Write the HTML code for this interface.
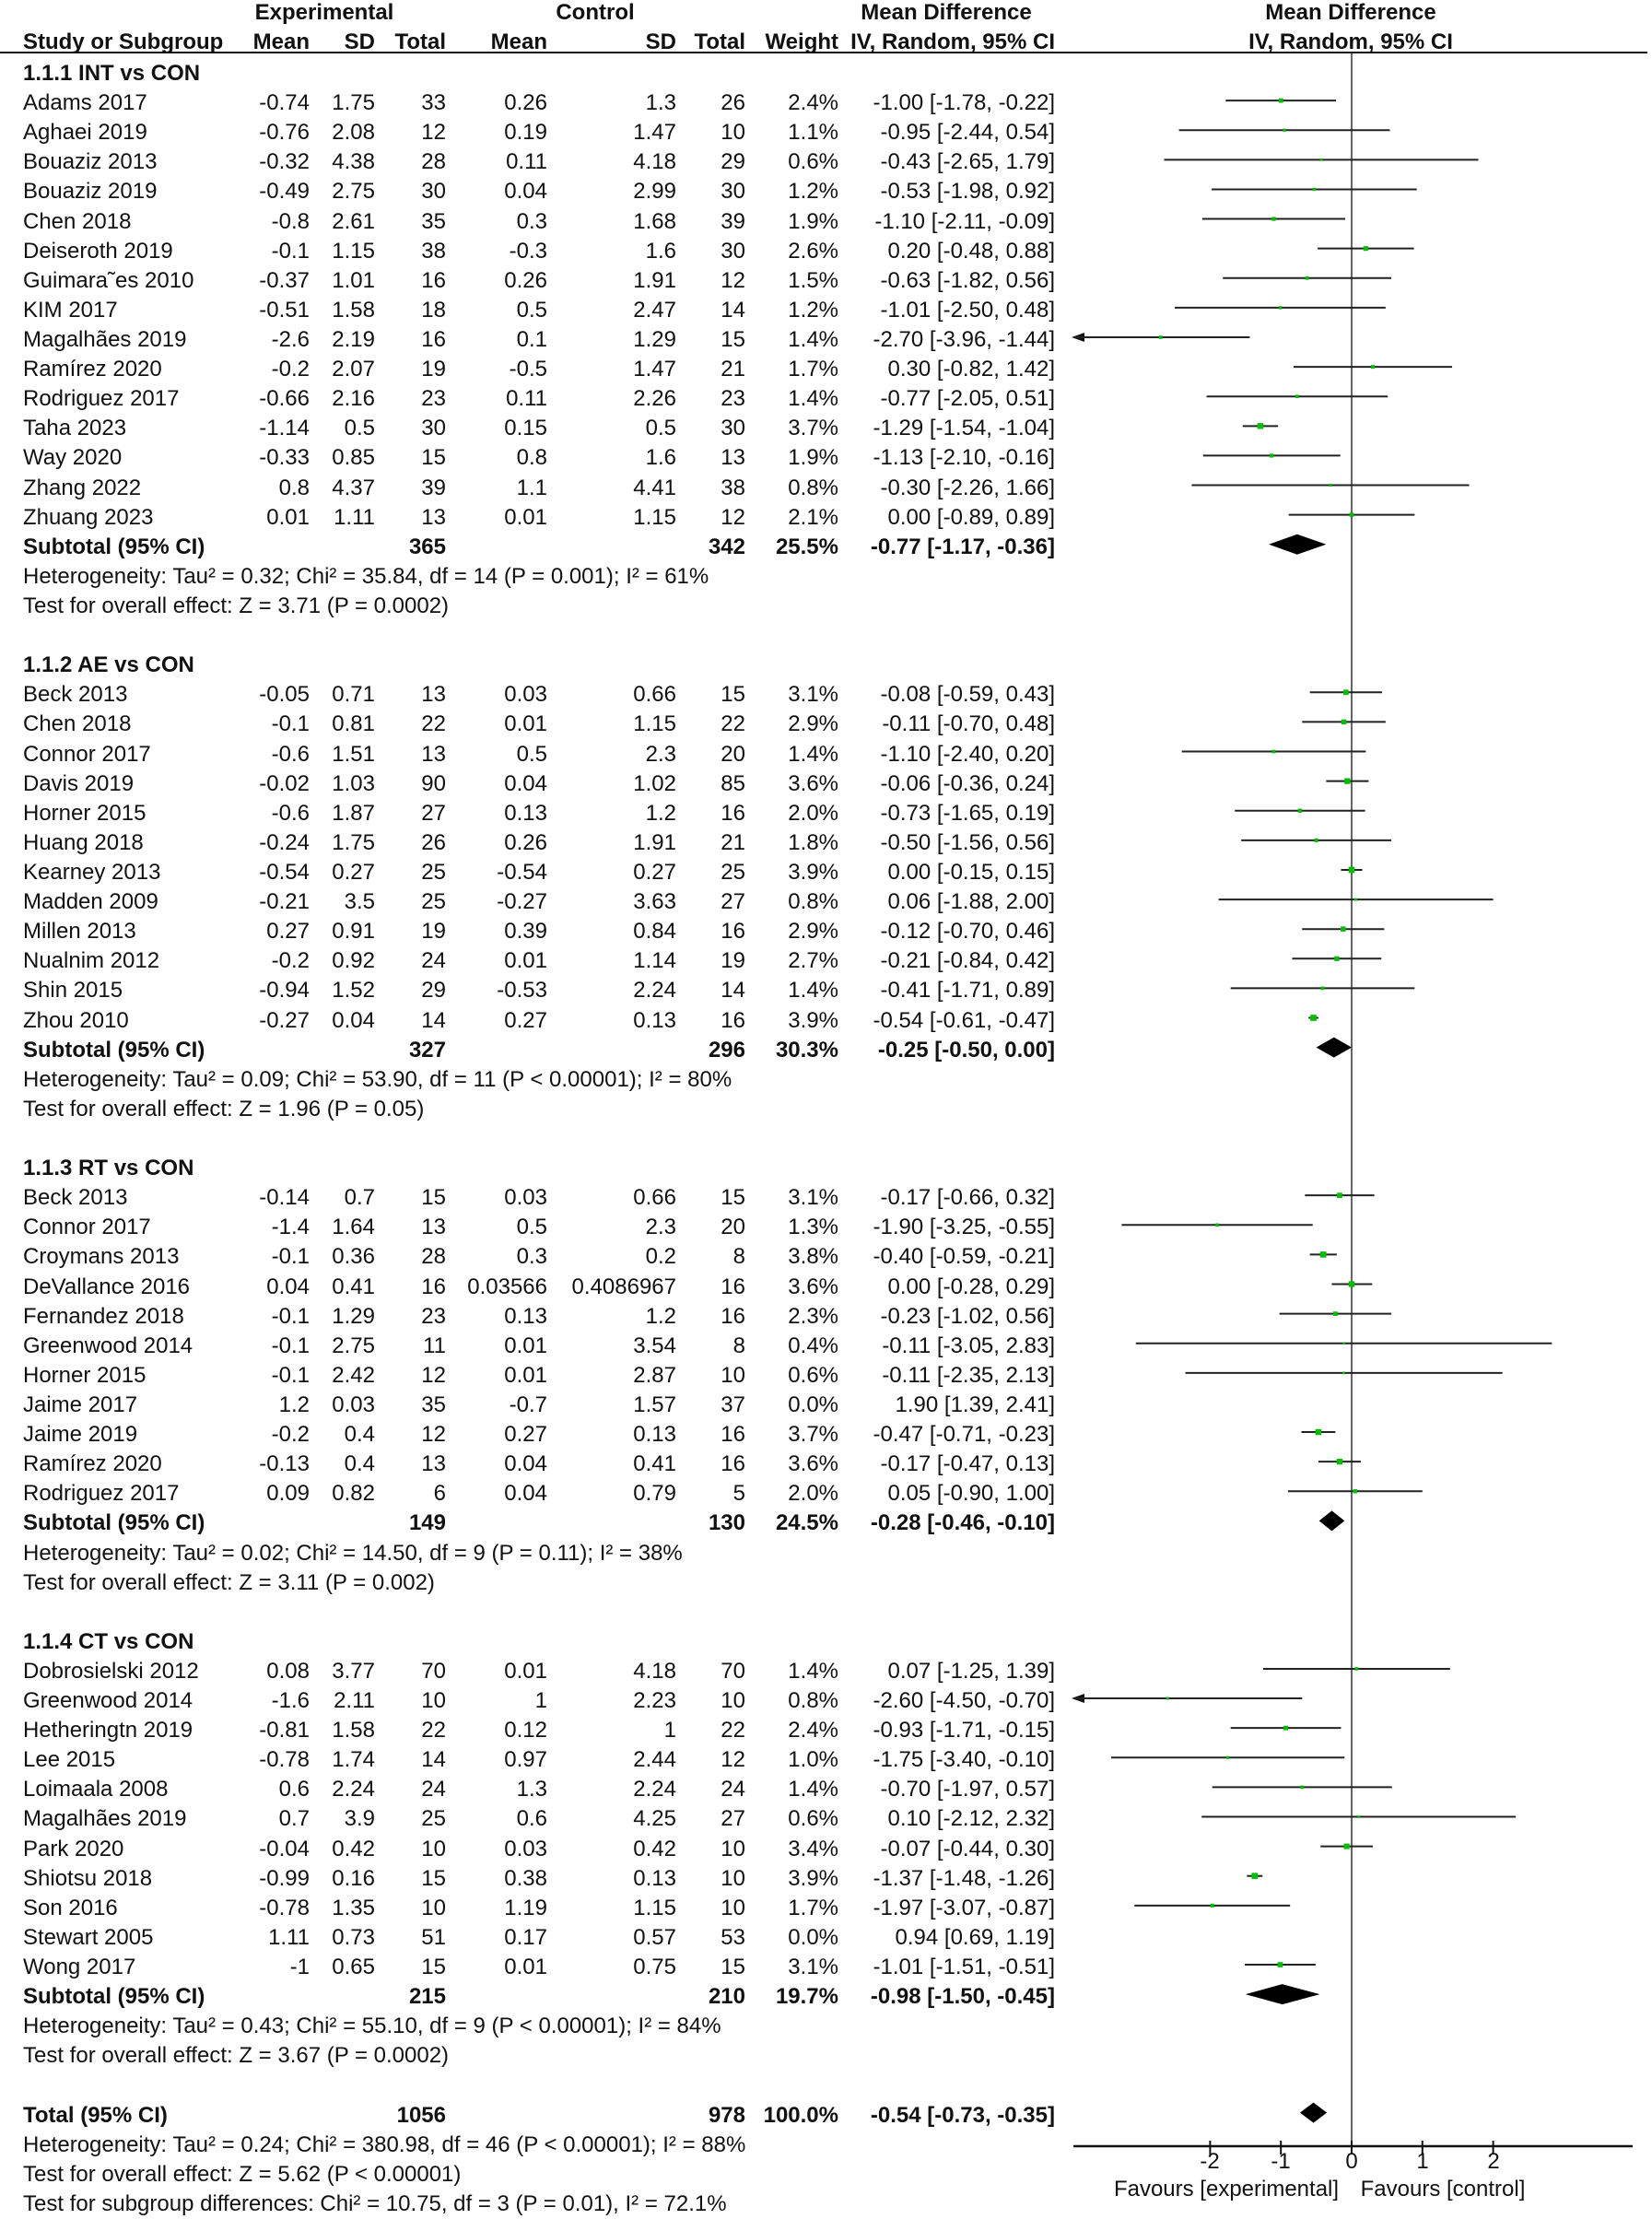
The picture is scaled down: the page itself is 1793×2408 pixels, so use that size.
<!DOCTYPE html>
<html><head><meta charset="utf-8">
<style>
body{margin:0;width:1793px;height:2405px;background:#fff;position:relative;overflow:hidden;font-family:"Liberation Sans",sans-serif;font-size:24px;color:#111;letter-spacing:0}
.r{position:absolute;left:0;width:1793px;height:32px;line-height:32px;top:calc(64px + var(--n)*32.11px);white-space:nowrap}
.r span{position:absolute;top:0}
.s{left:25px}.a{right:1457px}.b{right:1386px}.c{right:1309px}.d{right:1199px}.e{right:1059px}.f{right:984px}.g{right:883px}.h{right:648px}
.B{font-weight:bold}
.ctr{position:absolute;text-align:center;width:400px;white-space:nowrap}
svg{position:absolute;left:0;top:0}
</style></head><body>
<div class="r B" style="top:-2px"><span class="ctr" style="left:152px">Experimental</span><span class="ctr" style="left:446px">Control</span><span class="ctr" style="left:827px">Mean Difference</span><span class="ctr" style="left:1266px">Mean Difference</span></div>
<div class="r B" style="top:30px"><span class="s">Study or Subgroup</span><span class="a">Mean</span><span class="b">SD</span><span class="c">Total</span><span class="d">Mean</span><span class="e">SD</span><span class="f">Total</span><span class="g">Weight</span><span class="h">IV, Random, 95% CI</span><span class="ctr" style="left:1266px">IV, Random, 95% CI</span></div>
<div style="position:absolute;left:0;top:56px;width:1788px;height:2px;background:#111"></div>

<div class="r B" style="--n:0"><span class="s">1.1.1 INT vs CON</span></div>
<div class="r" style="--n:1"><span class="s">Adams 2017</span><span class="a">-0.74</span><span class="b">1.75</span><span class="c">33</span><span class="d">0.26</span><span class="e">1.3</span><span class="f">26</span><span class="g">2.4%</span><span class="h">-1.00 [-1.78, -0.22]</span></div>
<div class="r" style="--n:2"><span class="s">Aghaei 2019</span><span class="a">-0.76</span><span class="b">2.08</span><span class="c">12</span><span class="d">0.19</span><span class="e">1.47</span><span class="f">10</span><span class="g">1.1%</span><span class="h">-0.95 [-2.44, 0.54]</span></div>
<div class="r" style="--n:3"><span class="s">Bouaziz 2013</span><span class="a">-0.32</span><span class="b">4.38</span><span class="c">28</span><span class="d">0.11</span><span class="e">4.18</span><span class="f">29</span><span class="g">0.6%</span><span class="h">-0.43 [-2.65, 1.79]</span></div>
<div class="r" style="--n:4"><span class="s">Bouaziz 2019</span><span class="a">-0.49</span><span class="b">2.75</span><span class="c">30</span><span class="d">0.04</span><span class="e">2.99</span><span class="f">30</span><span class="g">1.2%</span><span class="h">-0.53 [-1.98, 0.92]</span></div>
<div class="r" style="--n:5"><span class="s">Chen 2018</span><span class="a">-0.8</span><span class="b">2.61</span><span class="c">35</span><span class="d">0.3</span><span class="e">1.68</span><span class="f">39</span><span class="g">1.9%</span><span class="h">-1.10 [-2.11, -0.09]</span></div>
<div class="r" style="--n:6"><span class="s">Deiseroth 2019</span><span class="a">-0.1</span><span class="b">1.15</span><span class="c">38</span><span class="d">-0.3</span><span class="e">1.6</span><span class="f">30</span><span class="g">2.6%</span><span class="h">0.20 [-0.48, 0.88]</span></div>
<div class="r" style="--n:7"><span class="s">Guimara˜es 2010</span><span class="a">-0.37</span><span class="b">1.01</span><span class="c">16</span><span class="d">0.26</span><span class="e">1.91</span><span class="f">12</span><span class="g">1.5%</span><span class="h">-0.63 [-1.82, 0.56]</span></div>
<div class="r" style="--n:8"><span class="s">KIM 2017</span><span class="a">-0.51</span><span class="b">1.58</span><span class="c">18</span><span class="d">0.5</span><span class="e">2.47</span><span class="f">14</span><span class="g">1.2%</span><span class="h">-1.01 [-2.50, 0.48]</span></div>
<div class="r" style="--n:9"><span class="s">Magalhães 2019</span><span class="a">-2.6</span><span class="b">2.19</span><span class="c">16</span><span class="d">0.1</span><span class="e">1.29</span><span class="f">15</span><span class="g">1.4%</span><span class="h">-2.70 [-3.96, -1.44]</span></div>
<div class="r" style="--n:10"><span class="s">Ramírez 2020</span><span class="a">-0.2</span><span class="b">2.07</span><span class="c">19</span><span class="d">-0.5</span><span class="e">1.47</span><span class="f">21</span><span class="g">1.7%</span><span class="h">0.30 [-0.82, 1.42]</span></div>
<div class="r" style="--n:11"><span class="s">Rodriguez 2017</span><span class="a">-0.66</span><span class="b">2.16</span><span class="c">23</span><span class="d">0.11</span><span class="e">2.26</span><span class="f">23</span><span class="g">1.4%</span><span class="h">-0.77 [-2.05, 0.51]</span></div>
<div class="r" style="--n:12"><span class="s">Taha 2023</span><span class="a">-1.14</span><span class="b">0.5</span><span class="c">30</span><span class="d">0.15</span><span class="e">0.5</span><span class="f">30</span><span class="g">3.7%</span><span class="h">-1.29 [-1.54, -1.04]</span></div>
<div class="r" style="--n:13"><span class="s">Way 2020</span><span class="a">-0.33</span><span class="b">0.85</span><span class="c">15</span><span class="d">0.8</span><span class="e">1.6</span><span class="f">13</span><span class="g">1.9%</span><span class="h">-1.13 [-2.10, -0.16]</span></div>
<div class="r" style="--n:14"><span class="s">Zhang 2022</span><span class="a">0.8</span><span class="b">4.37</span><span class="c">39</span><span class="d">1.1</span><span class="e">4.41</span><span class="f">38</span><span class="g">0.8%</span><span class="h">-0.30 [-2.26, 1.66]</span></div>
<div class="r" style="--n:15"><span class="s">Zhuang 2023</span><span class="a">0.01</span><span class="b">1.11</span><span class="c">13</span><span class="d">0.01</span><span class="e">1.15</span><span class="f">12</span><span class="g">2.1%</span><span class="h">0.00 [-0.89, 0.89]</span></div>
<div class="r B" style="--n:16"><span class="s">Subtotal (95% CI)</span><span class="c">365</span><span class="f">342</span><span class="g">25.5%</span><span class="h">-0.77 [-1.17, -0.36]</span></div>
<div class="r" style="--n:17"><span class="s">Heterogeneity: Tau² = 0.32; Chi² = 35.84, df = 14 (P = 0.001); I² = 61%</span></div>
<div class="r" style="--n:18"><span class="s">Test for overall effect: Z = 3.71 (P = 0.0002)</span></div>

<div class="r B" style="--n:20"><span class="s">1.1.2 AE vs CON</span></div>
<div class="r" style="--n:21"><span class="s">Beck 2013</span><span class="a">-0.05</span><span class="b">0.71</span><span class="c">13</span><span class="d">0.03</span><span class="e">0.66</span><span class="f">15</span><span class="g">3.1%</span><span class="h">-0.08 [-0.59, 0.43]</span></div>
<div class="r" style="--n:22"><span class="s">Chen 2018</span><span class="a">-0.1</span><span class="b">0.81</span><span class="c">22</span><span class="d">0.01</span><span class="e">1.15</span><span class="f">22</span><span class="g">2.9%</span><span class="h">-0.11 [-0.70, 0.48]</span></div>
<div class="r" style="--n:23"><span class="s">Connor 2017</span><span class="a">-0.6</span><span class="b">1.51</span><span class="c">13</span><span class="d">0.5</span><span class="e">2.3</span><span class="f">20</span><span class="g">1.4%</span><span class="h">-1.10 [-2.40, 0.20]</span></div>
<div class="r" style="--n:24"><span class="s">Davis 2019</span><span class="a">-0.02</span><span class="b">1.03</span><span class="c">90</span><span class="d">0.04</span><span class="e">1.02</span><span class="f">85</span><span class="g">3.6%</span><span class="h">-0.06 [-0.36, 0.24]</span></div>
<div class="r" style="--n:25"><span class="s">Horner 2015</span><span class="a">-0.6</span><span class="b">1.87</span><span class="c">27</span><span class="d">0.13</span><span class="e">1.2</span><span class="f">16</span><span class="g">2.0%</span><span class="h">-0.73 [-1.65, 0.19]</span></div>
<div class="r" style="--n:26"><span class="s">Huang 2018</span><span class="a">-0.24</span><span class="b">1.75</span><span class="c">26</span><span class="d">0.26</span><span class="e">1.91</span><span class="f">21</span><span class="g">1.8%</span><span class="h">-0.50 [-1.56, 0.56]</span></div>
<div class="r" style="--n:27"><span class="s">Kearney 2013</span><span class="a">-0.54</span><span class="b">0.27</span><span class="c">25</span><span class="d">-0.54</span><span class="e">0.27</span><span class="f">25</span><span class="g">3.9%</span><span class="h">0.00 [-0.15, 0.15]</span></div>
<div class="r" style="--n:28"><span class="s">Madden 2009</span><span class="a">-0.21</span><span class="b">3.5</span><span class="c">25</span><span class="d">-0.27</span><span class="e">3.63</span><span class="f">27</span><span class="g">0.8%</span><span class="h">0.06 [-1.88, 2.00]</span></div>
<div class="r" style="--n:29"><span class="s">Millen 2013</span><span class="a">0.27</span><span class="b">0.91</span><span class="c">19</span><span class="d">0.39</span><span class="e">0.84</span><span class="f">16</span><span class="g">2.9%</span><span class="h">-0.12 [-0.70, 0.46]</span></div>
<div class="r" style="--n:30"><span class="s">Nualnim 2012</span><span class="a">-0.2</span><span class="b">0.92</span><span class="c">24</span><span class="d">0.01</span><span class="e">1.14</span><span class="f">19</span><span class="g">2.7%</span><span class="h">-0.21 [-0.84, 0.42]</span></div>
<div class="r" style="--n:31"><span class="s">Shin 2015</span><span class="a">-0.94</span><span class="b">1.52</span><span class="c">29</span><span class="d">-0.53</span><span class="e">2.24</span><span class="f">14</span><span class="g">1.4%</span><span class="h">-0.41 [-1.71, 0.89]</span></div>
<div class="r" style="--n:32"><span class="s">Zhou 2010</span><span class="a">-0.27</span><span class="b">0.04</span><span class="c">14</span><span class="d">0.27</span><span class="e">0.13</span><span class="f">16</span><span class="g">3.9%</span><span class="h">-0.54 [-0.61, -0.47]</span></div>
<div class="r B" style="--n:33"><span class="s">Subtotal (95% CI)</span><span class="c">327</span><span class="f">296</span><span class="g">30.3%</span><span class="h">-0.25 [-0.50, 0.00]</span></div>
<div class="r" style="--n:34"><span class="s">Heterogeneity: Tau² = 0.09; Chi² = 53.90, df = 11 (P &lt; 0.00001); I² = 80%</span></div>
<div class="r" style="--n:35"><span class="s">Test for overall effect: Z = 1.96 (P = 0.05)</span></div>

<div class="r B" style="--n:37"><span class="s">1.1.3 RT vs CON</span></div>
<div class="r" style="--n:38"><span class="s">Beck 2013</span><span class="a">-0.14</span><span class="b">0.7</span><span class="c">15</span><span class="d">0.03</span><span class="e">0.66</span><span class="f">15</span><span class="g">3.1%</span><span class="h">-0.17 [-0.66, 0.32]</span></div>
<div class="r" style="--n:39"><span class="s">Connor 2017</span><span class="a">-1.4</span><span class="b">1.64</span><span class="c">13</span><span class="d">0.5</span><span class="e">2.3</span><span class="f">20</span><span class="g">1.3%</span><span class="h">-1.90 [-3.25, -0.55]</span></div>
<div class="r" style="--n:40"><span class="s">Croymans 2013</span><span class="a">-0.1</span><span class="b">0.36</span><span class="c">28</span><span class="d">0.3</span><span class="e">0.2</span><span class="f">8</span><span class="g">3.8%</span><span class="h">-0.40 [-0.59, -0.21]</span></div>
<div class="r" style="--n:41"><span class="s">DeVallance 2016</span><span class="a">0.04</span><span class="b">0.41</span><span class="c">16</span><span class="d">0.03566</span><span class="e">0.4086967</span><span class="f">16</span><span class="g">3.6%</span><span class="h">0.00 [-0.28, 0.29]</span></div>
<div class="r" style="--n:42"><span class="s">Fernandez 2018</span><span class="a">-0.1</span><span class="b">1.29</span><span class="c">23</span><span class="d">0.13</span><span class="e">1.2</span><span class="f">16</span><span class="g">2.3%</span><span class="h">-0.23 [-1.02, 0.56]</span></div>
<div class="r" style="--n:43"><span class="s">Greenwood 2014</span><span class="a">-0.1</span><span class="b">2.75</span><span class="c">11</span><span class="d">0.01</span><span class="e">3.54</span><span class="f">8</span><span class="g">0.4%</span><span class="h">-0.11 [-3.05, 2.83]</span></div>
<div class="r" style="--n:44"><span class="s">Horner 2015</span><span class="a">-0.1</span><span class="b">2.42</span><span class="c">12</span><span class="d">0.01</span><span class="e">2.87</span><span class="f">10</span><span class="g">0.6%</span><span class="h">-0.11 [-2.35, 2.13]</span></div>
<div class="r" style="--n:45"><span class="s">Jaime 2017</span><span class="a">1.2</span><span class="b">0.03</span><span class="c">35</span><span class="d">-0.7</span><span class="e">1.57</span><span class="f">37</span><span class="g">0.0%</span><span class="h">1.90 [1.39, 2.41]</span></div>
<div class="r" style="--n:46"><span class="s">Jaime 2019</span><span class="a">-0.2</span><span class="b">0.4</span><span class="c">12</span><span class="d">0.27</span><span class="e">0.13</span><span class="f">16</span><span class="g">3.7%</span><span class="h">-0.47 [-0.71, -0.23]</span></div>
<div class="r" style="--n:47"><span class="s">Ramírez 2020</span><span class="a">-0.13</span><span class="b">0.4</span><span class="c">13</span><span class="d">0.04</span><span class="e">0.41</span><span class="f">16</span><span class="g">3.6%</span><span class="h">-0.17 [-0.47, 0.13]</span></div>
<div class="r" style="--n:48"><span class="s">Rodriguez 2017</span><span class="a">0.09</span><span class="b">0.82</span><span class="c">6</span><span class="d">0.04</span><span class="e">0.79</span><span class="f">5</span><span class="g">2.0%</span><span class="h">0.05 [-0.90, 1.00]</span></div>
<div class="r B" style="--n:49"><span class="s">Subtotal (95% CI)</span><span class="c">149</span><span class="f">130</span><span class="g">24.5%</span><span class="h">-0.28 [-0.46, -0.10]</span></div>
<div class="r" style="--n:50"><span class="s">Heterogeneity: Tau² = 0.02; Chi² = 14.50, df = 9 (P = 0.11); I² = 38%</span></div>
<div class="r" style="--n:51"><span class="s">Test for overall effect: Z = 3.11 (P = 0.002)</span></div>

<div class="r B" style="--n:53"><span class="s">1.1.4 CT vs CON</span></div>
<div class="r" style="--n:54"><span class="s">Dobrosielski 2012</span><span class="a">0.08</span><span class="b">3.77</span><span class="c">70</span><span class="d">0.01</span><span class="e">4.18</span><span class="f">70</span><span class="g">1.4%</span><span class="h">0.07 [-1.25, 1.39]</span></div>
<div class="r" style="--n:55"><span class="s">Greenwood 2014</span><span class="a">-1.6</span><span class="b">2.11</span><span class="c">10</span><span class="d">1</span><span class="e">2.23</span><span class="f">10</span><span class="g">0.8%</span><span class="h">-2.60 [-4.50, -0.70]</span></div>
<div class="r" style="--n:56"><span class="s">Hetheringtn 2019</span><span class="a">-0.81</span><span class="b">1.58</span><span class="c">22</span><span class="d">0.12</span><span class="e">1</span><span class="f">22</span><span class="g">2.4%</span><span class="h">-0.93 [-1.71, -0.15]</span></div>
<div class="r" style="--n:57"><span class="s">Lee 2015</span><span class="a">-0.78</span><span class="b">1.74</span><span class="c">14</span><span class="d">0.97</span><span class="e">2.44</span><span class="f">12</span><span class="g">1.0%</span><span class="h">-1.75 [-3.40, -0.10]</span></div>
<div class="r" style="--n:58"><span class="s">Loimaala 2008</span><span class="a">0.6</span><span class="b">2.24</span><span class="c">24</span><span class="d">1.3</span><span class="e">2.24</span><span class="f">24</span><span class="g">1.4%</span><span class="h">-0.70 [-1.97, 0.57]</span></div>
<div class="r" style="--n:59"><span class="s">Magalhães 2019</span><span class="a">0.7</span><span class="b">3.9</span><span class="c">25</span><span class="d">0.6</span><span class="e">4.25</span><span class="f">27</span><span class="g">0.6%</span><span class="h">0.10 [-2.12, 2.32]</span></div>
<div class="r" style="--n:60"><span class="s">Park 2020</span><span class="a">-0.04</span><span class="b">0.42</span><span class="c">10</span><span class="d">0.03</span><span class="e">0.42</span><span class="f">10</span><span class="g">3.4%</span><span class="h">-0.07 [-0.44, 0.30]</span></div>
<div class="r" style="--n:61"><span class="s">Shiotsu 2018</span><span class="a">-0.99</span><span class="b">0.16</span><span class="c">15</span><span class="d">0.38</span><span class="e">0.13</span><span class="f">10</span><span class="g">3.9%</span><span class="h">-1.37 [-1.48, -1.26]</span></div>
<div class="r" style="--n:62"><span class="s">Son 2016</span><span class="a">-0.78</span><span class="b">1.35</span><span class="c">10</span><span class="d">1.19</span><span class="e">1.15</span><span class="f">10</span><span class="g">1.7%</span><span class="h">-1.97 [-3.07, -0.87]</span></div>
<div class="r" style="--n:63"><span class="s">Stewart 2005</span><span class="a">1.11</span><span class="b">0.73</span><span class="c">51</span><span class="d">0.17</span><span class="e">0.57</span><span class="f">53</span><span class="g">0.0%</span><span class="h">0.94 [0.69, 1.19]</span></div>
<div class="r" style="--n:64"><span class="s">Wong 2017</span><span class="a">-1</span><span class="b">0.65</span><span class="c">15</span><span class="d">0.01</span><span class="e">0.75</span><span class="f">15</span><span class="g">3.1%</span><span class="h">-1.01 [-1.51, -0.51]</span></div>
<div class="r B" style="--n:65"><span class="s">Subtotal (95% CI)</span><span class="c">215</span><span class="f">210</span><span class="g">19.7%</span><span class="h">-0.98 [-1.50, -0.45]</span></div>
<div class="r" style="--n:66"><span class="s">Heterogeneity: Tau² = 0.43; Chi² = 55.10, df = 9 (P &lt; 0.00001); I² = 84%</span></div>
<div class="r" style="--n:67"><span class="s">Test for overall effect: Z = 3.67 (P = 0.0002)</span></div>

<div class="r B" style="--n:69"><span class="s">Total (95% CI)</span><span class="c">1056</span><span class="f">978</span><span class="g">100.0%</span><span class="h">-0.54 [-0.73, -0.35]</span></div>
<div class="r" style="--n:70"><span class="s">Heterogeneity: Tau² = 0.24; Chi² = 380.98, df = 46 (P &lt; 0.00001); I² = 88%</span></div>
<div class="r" style="--n:71"><span class="s">Test for overall effect: Z = 5.62 (P &lt; 0.00001)</span></div>
<div class="r" style="--n:72"><span class="s">Test for subgroup differences: Chi² = 10.75, df = 3 (P = 0.01), I² = 72.1%</span></div>

<div class="r" style="top:2330px"><span class="ctr" style="left:1273px;width:80px">-2</span><span class="ctr" style="left:1350px;width:80px">-1</span><span class="ctr" style="left:1427px;width:80px">0</span><span class="ctr" style="left:1504px;width:80px">1</span><span class="ctr" style="left:1581px;width:80px">2</span></div>
<div class="r" style="top:2360px"><span class="ctr" style="left:1131px">Favours [experimental]</span><span class="ctr" style="left:1366px">Favours [control]</span></div>

<svg id="p" width="1793" height="2405" viewBox="0 0 1793 2405"></svg>
<script>
(function(){
var X=function(v){return 1467+76.8*v;},Y=function(n){return 80+32.11*n-3;};
var d=[[1,-1,-1.78,-.22,2.4],[2,-.95,-2.44,.54,1.1],[3,-.43,-2.65,1.79,.6],[4,-.53,-1.98,.92,1.2],[5,-1.1,-2.11,-.09,1.9],[6,.2,-.48,.88,2.6],[7,-.63,-1.82,.56,1.5],[8,-1.01,-2.5,.48,1.2],[9,-2.7,-3.96,-1.44,1.4],[10,.3,-.82,1.42,1.7],[11,-.77,-2.05,.51,1.4],[12,-1.29,-1.54,-1.04,3.7],[13,-1.13,-2.1,-.16,1.9],[14,-.3,-2.26,1.66,.8],[15,0,-.89,.89,2.1],
[21,-.08,-.59,.43,3.1],[22,-.11,-.7,.48,2.9],[23,-1.1,-2.4,.2,1.4],[24,-.06,-.36,.24,3.6],[25,-.73,-1.65,.19,2],[26,-.5,-1.56,.56,1.8],[27,0,-.15,.15,3.9],[28,.06,-1.88,2,.8],[29,-.12,-.7,.46,2.9],[30,-.21,-.84,.42,2.7],[31,-.41,-1.71,.89,1.4],[32,-.54,-.61,-.47,3.9],
[38,-.17,-.66,.32,3.1],[39,-1.9,-3.25,-.55,1.3],[40,-.4,-.59,-.21,3.8],[41,0,-.28,.29,3.6],[42,-.23,-1.02,.56,2.3],[43,-.11,-3.05,2.83,.4],[44,-.11,-2.35,2.13,.6],[45,1.9,1.39,2.41,0],[46,-.47,-.71,-.23,3.7],[47,-.17,-.47,.13,3.6],[48,.05,-.9,1,2],
[54,.07,-1.25,1.39,1.4],[55,-2.6,-4.5,-.7,.8],[56,-.93,-1.71,-.15,2.4],[57,-1.75,-3.4,-.1,1],[58,-.7,-1.97,.57,1.4],[59,.1,-2.12,2.32,.6],[60,-.07,-.44,.3,3.4],[61,-1.37,-1.48,-1.26,3.9],[62,-1.97,-3.07,-.87,1.7],[63,.94,.69,1.19,0],[64,-1.01,-1.51,-.51,3.1]];
var dm=[[16,-.77,-1.17,-.36],[33,-.25,-.5,0],[49,-.28,-.46,-.1],[65,-.98,-1.5,-.45],[69,-.54,-.73,-.35]];
var s='<line x1="1467" y1="57" x2="1467" y2="2329" stroke="#333" stroke-width="1.5"/>';
s+='<line x1="1165" y1="2329" x2="1772" y2="2329" stroke="#111" stroke-width="2.5"/>';
[-2,-1,0,1,2].forEach(function(t){s+='<line x1="'+X(t)+'" y1="2323" x2="'+X(t)+'" y2="2338" stroke="#111" stroke-width="2"/>';});
d.forEach(function(r){if(!r[4])return;var y=Y(r[0]),lo=r[2],x1=X(lo),x2=X(r[3]);
 if(x1<1167){x1=1167;s+='<polygon points="1163,'+y+' 1177,'+(y-5)+' 1177,'+(y+5)+'" fill="#111"/>';}
 s+='<line x1="'+x1+'" y1="'+y+'" x2="'+x2+'" y2="'+y+'" stroke="#222" stroke-width="2"/>';
 var z=2+1.2*r[4];s+='<rect x="'+(X(r[1])-z/2)+'" y="'+(y-z/2)+'" width="'+z+'" height="'+z+'" fill="#00c000"/>';});
dm.forEach(function(r){var y=Y(r[0]);s+='<polygon points="'+X(r[2])+','+y+' '+X(r[1])+','+(y-11)+' '+X(r[3])+','+y+' '+X(r[1])+','+(y+11)+'" fill="#000"/>';});
document.getElementById('p').innerHTML=s;
})();
</script>
</body></html>
